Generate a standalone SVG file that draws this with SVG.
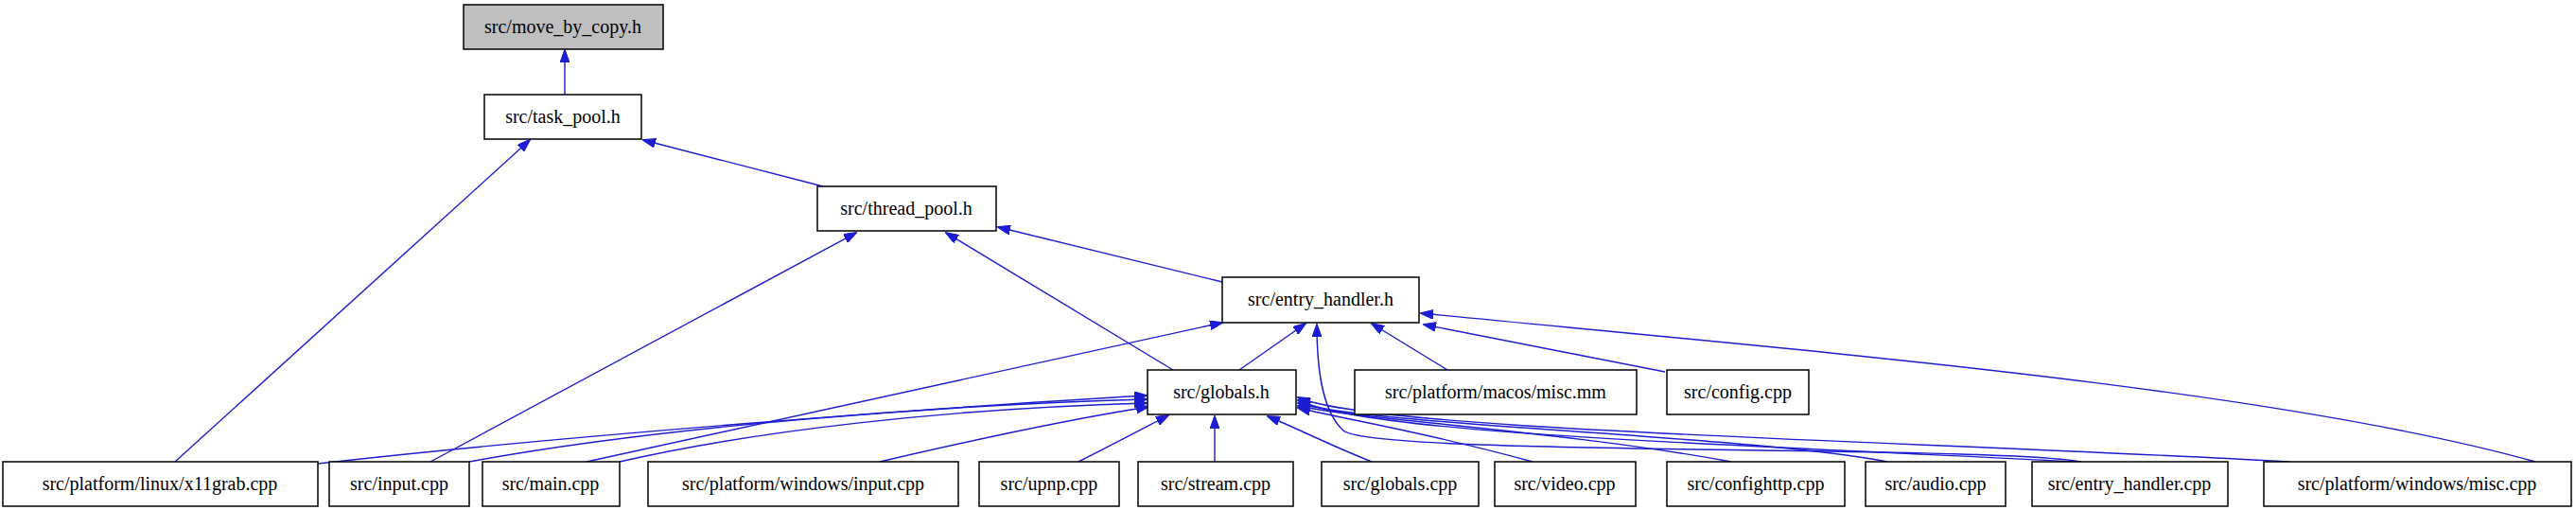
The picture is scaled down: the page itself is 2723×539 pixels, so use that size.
<svg xmlns="http://www.w3.org/2000/svg" width="2723" height="539" viewBox="0 0 2723 539">
<style>
.n rect{fill:#fff;stroke:#000;stroke-width:1.5}
.n text{font-family:"Liberation Serif",serif;font-size:20px;text-anchor:middle;fill:#000}
.e path{fill:none;stroke:#1c1cd0;stroke-width:1.4;marker-end:url(#a)}
</style>
<defs><marker id="a" viewBox="0 0 14 10" refX="13" refY="5" markerWidth="14" markerHeight="10" markerUnits="userSpaceOnUse" orient="auto"><path d="M0,0L14,5L0,10z" fill="#1c1cd0" stroke="#1c1cd0"/></marker></defs>
<rect width="2723" height="539" fill="#fff"/>
<g class="e">
<path d="M597,100L597,53"/>
<path d="M870,197L680,148"/>
<path d="M185,488L560,148"/>
<path d="M1292,298L1055,240"/>
<path d="M455,488L905,246"/>
<path d="M1240,391L1000,246"/>
<path d="M1310,391L1380,342"/>
<path d="M620,488L1292,341"/>
<path d="M1530,391L1450,342"/>
<path d="M1760,393L1505,343"/>
<path d="M2680,488C2400,410 1900,370 1502,331"/>
<path d="M2200,488C2100,470 1450,482 1420,455C1395,432 1392,380 1392,343"/>
<path d="M336,490C600,460 1000,430 1212,418"/>
<path d="M496,488C700,450 1000,428 1212,422"/>
<path d="M655,488C800,455 1000,432 1212,426"/>
<path d="M930,488C1050,460 1150,440 1214,430"/>
<path d="M1140,488C1180,468 1210,452 1235,439"/>
<path d="M1284,488L1284,440"/>
<path d="M1450,488C1400,468 1370,452 1340,440"/>
<path d="M1620,488C1500,455 1430,445 1372,431"/>
<path d="M1830,488C1650,455 1450,445 1372,429"/>
<path d="M1995,488C1850,460 1450,450 1372,426"/>
<path d="M2195,488C1850,470 1450,460 1372,423"/>
<path d="M2420,488C2000,465 1450,455 1372,420"/>
</g>
<g id="move_by_copy" class="n"><rect x="490" y="5" width="211" height="47" style="fill:#bfbfbf"/><text x="595" y="35">src/move_by_copy.h</text></g>
<g id="task_pool" class="n"><rect x="512" y="100" width="166" height="47"/><text x="595" y="130">src/task_pool.h</text></g>
<g id="thread_pool" class="n"><rect x="864" y="197" width="189" height="47"/><text x="958" y="227">src/thread_pool.h</text></g>
<g id="entry_handler_h" class="n"><rect x="1292" y="293" width="208" height="48"/><text x="1396" y="323">src/entry_handler.h</text></g>
<g id="globals_h" class="n"><rect x="1213" y="391" width="157" height="47"/><text x="1291" y="421">src/globals.h</text></g>
<g id="macos_misc" class="n"><rect x="1432" y="391" width="298" height="47"/><text x="1581" y="421">src/platform/macos/misc.mm</text></g>
<g id="config" class="n"><rect x="1762" y="391" width="150" height="47"/><text x="1837" y="421">src/config.cpp</text></g>
<g id="x11grab" class="n"><rect x="3" y="488" width="333" height="47"/><text x="169" y="518">src/platform/linux/x11grab.cpp</text></g>
<g id="input" class="n"><rect x="348" y="488" width="148" height="47"/><text x="422" y="518">src/input.cpp</text></g>
<g id="main" class="n"><rect x="510" y="488" width="145" height="47"/><text x="582" y="518">src/main.cpp</text></g>
<g id="win_input" class="n"><rect x="685" y="488" width="328" height="47"/><text x="849" y="518">src/platform/windows/input.cpp</text></g>
<g id="upnp" class="n"><rect x="1035" y="488" width="148" height="47"/><text x="1109" y="518">src/upnp.cpp</text></g>
<g id="stream" class="n"><rect x="1203" y="488" width="164" height="47"/><text x="1285" y="518">src/stream.cpp</text></g>
<g id="globals_cpp" class="n"><rect x="1397" y="488" width="166" height="47"/><text x="1480" y="518">src/globals.cpp</text></g>
<g id="video" class="n"><rect x="1580" y="488" width="149" height="47"/><text x="1654" y="518">src/video.cpp</text></g>
<g id="confighttp" class="n"><rect x="1762" y="488" width="188" height="47"/><text x="1856" y="518">src/confighttp.cpp</text></g>
<g id="audio" class="n"><rect x="1972" y="488" width="148" height="47"/><text x="2046" y="518">src/audio.cpp</text></g>
<g id="entry_handler_cpp" class="n"><rect x="2148" y="488" width="207" height="47"/><text x="2251" y="518">src/entry_handler.cpp</text></g>
<g id="win_misc" class="n"><rect x="2393" y="488" width="325" height="47"/><text x="2555" y="518">src/platform/windows/misc.cpp</text></g>
</svg>
